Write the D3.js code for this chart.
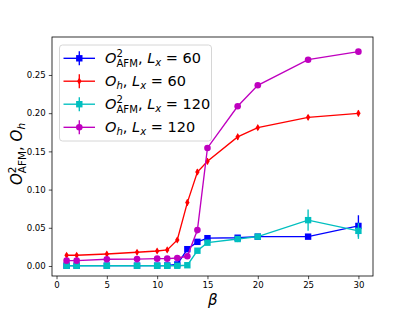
<!DOCTYPE html>
<html><head><meta charset="utf-8">
<script src="https://cdn.jsdelivr.net/npm/d3@7"></script>
<style>body{margin:0;background:#fff}svg{display:block}</style>
</head><body><svg id="c" width="415" height="311"></svg>
<script>
const beta = [1, 2, 5, 8, 10, 11, 12, 13, 14, 15, 18, 20, 25, 30];
const afm60 = [0.0004, 0.0004, 0.0004, 0.0004, 0.0004, 0.0006, 0.002, 0.022, 0.0316, 0.0364, 0.037, 0.0384, 0.0384, 0.0524];
const afm60Err = [0.001, 0.001, 0.001, 0.001, 0.001, 0.001, 0.001, 0.002, 0.002, 0.002, 0.002, 0.002, 0.002, 0.014];
const oh60 = [0.014, 0.014, 0.0157, 0.018, 0.0196, 0.021, 0.034, 0.083, 0.123, 0.137, 0.169, 0.181, 0.1946, 0.1998];
const oh60Err = [0.003, 0.003, 0.003, 0.003, 0.003, 0.003, 0.003, 0.004, 0.004, 0.004, 0.004, 0.003, 0.003, 0.004];
const afm120 = [0.0003, 0.0003, 0.0003, 0.0003, 0.0003, 0.0003, 0.0003, 0.001, 0.020, 0.0305, 0.0353, 0.0384, 0.060, 0.046];
const afm120Err = [0.001, 0.001, 0.001, 0.001, 0.001, 0.001, 0.001, 0.001, 0.002, 0.002, 0.004, 0.002, 0.014, 0.0105];
const oh120 = [0.007, 0.007, 0.0088, 0.009, 0.0096, 0.0096, 0.0105, 0.0127, 0.047, 0.1545, 0.209, 0.2365, 0.270, 0.2805];
const oh120Err = [0.001, 0.001, 0.001, 0.001, 0.001, 0.001, 0.001, 0.002, 0.004, 0.002, 0.002, 0.002, 0.002, 0.002];
const xTicks = [0, 5, 10, 15, 20, 25, 30];
const yTicks = [0, 0.05, 0.10, 0.15, 0.20, 0.25];

const series = [
  {name:"afm60", vals:afm60, err:afm60Err, color:"#0000ff", marker:"s", label:[["O","i"],["2","sup"],["AFM","sub"],[", ",""],["L","i"],["x","subi"],[" = 60",""]]},
  {name:"oh60", vals:oh60, err:oh60Err, color:"#ff0000", marker:"d", label:[["O","i"],["h","subi"],[", ",""],["L","i"],["x","subi"],[" = 60",""]]},
  {name:"afm120", vals:afm120, err:afm120Err, color:"#00bfbf", marker:"s", label:[["O","i"],["2","sup"],["AFM","sub"],[", ",""],["L","i"],["x","subi"],[" = 120",""]]},
  {name:"oh120", vals:oh120, err:oh120Err, color:"#bf00bf", marker:"o", label:[["O","i"],["h","subi"],[", ",""],["L","i"],["x","subi"],[" = 120",""]]}
];

const svg = d3.select("#c");
const L = 52, R = 373, T = 37, B = 276;
const x = d3.scaleLinear().domain([-0.45, 31.45]).range([L, R]);
const y = d3.scaleLinear().domain([-0.0131, 0.2997]).range([B, T]);
const font = "DejaVu Sans";

function marker(g, type, cx, cy, color) {
  if (type === "s") {
    g.append("rect").attr("x", cx-3.2).attr("y", cy-3.2).attr("width", 6.4).attr("height", 6.4).attr("fill", color);
  } else if (type === "o") {
    g.append("circle").attr("cx", cx).attr("cy", cy).attr("r", 3.3).attr("fill", color);
  } else {
    g.append("path").attr("d", `M${cx},${cy-3.6}L${cx+2.2},${cy}L${cx},${cy+3.6}L${cx-2.2},${cy}Z`).attr("fill", color);
  }
}

// axes
const gx = svg.append("g").attr("transform", `translate(0,${B})`)
  .call(d3.axisBottom(x).tickValues(xTicks).tickSize(3.2).tickPadding(3).tickFormat(d3.format("d")));
const gy = svg.append("g").attr("transform", `translate(${L},0)`)
  .call(d3.axisLeft(y).tickValues(yTicks).tickSize(3.2).tickPadding(3).tickFormat(d3.format(".2f")));
[gx, gy].forEach(g => {
  g.select(".domain").remove();
  g.selectAll("line").attr("stroke", "#000").attr("stroke-width", 0.7);
  g.selectAll("text").attr("font-family", font).attr("font-size", 8.6).attr("fill", "#000");
});

const plot = svg.append("g");
series.forEach(s => {
  const g = plot.append("g");
  const pts = beta.map((b, i) => [x(b), y(s.vals[i]), s.err[i], s.vals[i]]);
  g.append("path").attr("d", d3.line()(pts.map(p => [p[0], p[1]])))
    .attr("fill", "none").attr("stroke", s.color).attr("stroke-width", 1.35);
  pts.forEach(p => {
    g.append("line").attr("x1", p[0]).attr("x2", p[0]).attr("y1", y(p[3]-p[2])).attr("y2", y(p[3]+p[2]))
      .attr("stroke", s.color).attr("stroke-width", 1.35);
    marker(g, s.marker, p[0], p[1], s.color);
  });
});

// frame
svg.append("rect").attr("x", L).attr("y", T).attr("width", R-L).attr("height", B-T)
  .attr("fill", "none").attr("stroke", "#000").attr("stroke-width", 0.8);

// math text helper (start-anchored; returns the text element)
function mathText(parent, segs, size) {
  const t = parent.append("text").attr("font-family", font).attr("font-size", size).attr("fill", "#000");
  let pendingBack = 0;
  let baseShift = 0;
  segs.forEach(([txt, kind]) => {
    const sp = t.append("tspan").text(txt);
    if (kind === "i") sp.attr("font-style", "italic");
    let shift = 0, fs = size;
    if (kind === "sup") { shift = -0.42*size; fs = 0.7*size; }
    if (kind === "sub") { shift = 0.25*size; fs = 0.7*size; }
    if (kind === "subi") { shift = 0.22*size; fs = 0.7*size; sp.attr("font-style", "italic"); }
    sp.attr("font-size", fs).attr("dy", shift - baseShift);
    baseShift = shift;
    if (kind === "sub" && pendingBack) { sp.attr("dx", -pendingBack); }
    pendingBack = 0;
    if (kind === "sup") pendingBack = sp.node().getComputedTextLength();
  });
  return t;
}
function centered(parent, segs, size, cx, cy) {
  const g = parent.append("g");
  const t = mathText(g, segs, size).attr("x", 0).attr("y", 0);
  const bb = t.node().getBBox();
  t.attr("x", cx - (bb.x + bb.width/2)).attr("y", cy);
  return t;
}

// legend
const lg = svg.append("g");
lg.append("rect").attr("x", 59.5).attr("y", 45).attr("width", 152).attr("height", 96).attr("rx", 3)
  .attr("fill", "#fff").attr("fill-opacity", 0.8).attr("stroke", "#cccccc").attr("stroke-width", 0.8);
const rowY = [58.3, 81.2, 104.2, 127.3];
series.forEach((s, i) => {
  const cy = rowY[i];
  lg.append("line").attr("x1", 63.5).attr("x2", 95).attr("y1", cy).attr("y2", cy).attr("stroke", s.color).attr("stroke-width", 1.35);
  lg.append("line").attr("x1", 79.3).attr("x2", 79.3).attr("y1", cy-7).attr("y2", cy+7).attr("stroke", s.color).attr("stroke-width", 1.35);
  marker(lg, s.marker, 79.3, cy, s.color);
  mathText(lg, s.label, 14.5).attr("x", 105).attr("y", cy + 5);
});

// axis labels
centered(svg, [["\u03b2","i"]], 15, 212.5, 305);
const yl = svg.append("g").attr("transform", "translate(22,154) rotate(-90)");
centered(yl, [["O","i"],["2","sup"],["AFM","sub"],[", ",""],["O","i"],["h","subi"]], 15, 0, 0);
</script></body></html>
